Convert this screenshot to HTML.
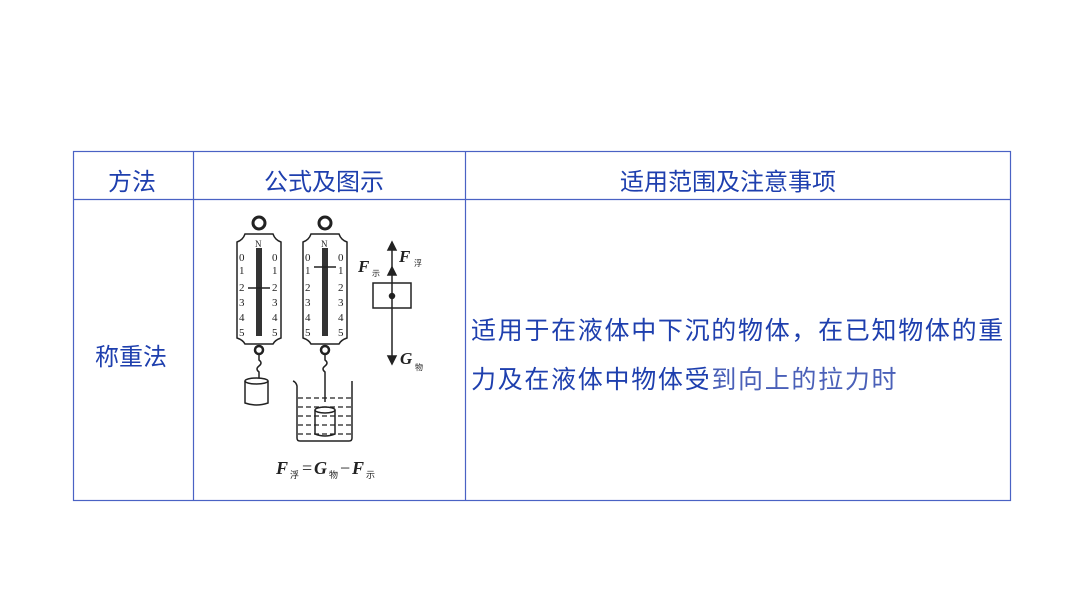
<!DOCTYPE html>
<html><head><meta charset="utf-8"><style>
body{margin:0;width:1066px;height:600px;background:#fff;position:relative;font-family:"Liberation Sans","Noto Sans CJK SC",sans-serif;overflow:hidden}
.t{position:absolute;color:#1e3fae;font-size:25px;line-height:30px;white-space:nowrap}
</style></head><body>
<svg width="1066" height="600" style="position:absolute;left:0;top:0">
<g stroke="#4a62c4" stroke-width="1.2" fill="none">
<rect x="73.5" y="151.5" width="937" height="349"/>
<line x1="73" y1="199.5" x2="1011" y2="199.5"/>
<line x1="193.5" y1="151" x2="193.5" y2="500"/>
<line x1="465.5" y1="151" x2="465.5" y2="500"/>
</g>
<g stroke="#222" fill="none" stroke-width="1.5" font-family="Liberation Serif,serif">
<circle cx="259" cy="223" r="6" stroke-width="3"/>
<path d="M237 242 q6-2 8-8 h28 q2 6 8 8 v96 q-6 2 -8 6 h-28 q-2-4 -8-6 z"/>
<rect x="256" y="248" width="6" height="88" fill="#333" stroke="none"/>
<line x1="248" y1="288" x2="270" y2="288"/>
<circle cx="259" cy="350" r="4" stroke-width="2.5"/>
<path d="M259 354 v6 q4 3 0 6 q-4 3 0 6 v6"/>
<path d="M245 381 v22 q11 4 23 0 v-22"/><ellipse cx="256.5" cy="381" rx="11.5" ry="3"/>
<circle cx="325" cy="223" r="6" stroke-width="3"/>
<path d="M303 242 q6-2 8-8 h28 q2 6 8 8 v96 q-6 2 -8 6 h-28 q-2-4 -8-6 z"/>
<rect x="322" y="248" width="6" height="88" fill="#333" stroke="none"/>
<line x1="314" y1="267" x2="336" y2="267"/>
<circle cx="325" cy="350" r="4" stroke-width="2.5"/>
<path d="M325 354 v6 q4 3 0 6 q-4 3 0 6 v30"/>
<path d="M293 381 q3 1 4 5 v52 q0 3 3 3 h49 q3 0 3-3 v-57"/>
<g stroke-dasharray="5 3" stroke-width="1.2"><line x1="298" y1="398" x2="351" y2="398"/><line x1="298" y1="407" x2="351" y2="407"/><line x1="298" y1="416" x2="351" y2="416"/><line x1="298" y1="425" x2="351" y2="425"/><line x1="298" y1="434" x2="351" y2="434"/></g>
<path d="M315 410 v24 q10 4 20 0 v-24"/><ellipse cx="325" cy="410" rx="10" ry="3"/>
<rect x="373" y="283" width="38" height="25"/>
<line x1="392" y1="248" x2="392" y2="358"/>
<path d="M388 250 l4-8 l4 8 z M388 275 l4-8 l4 8 z M388 356 l4 8 l4-8 z" fill="#222"/>
<circle cx="392" cy="296" r="2.5" fill="#222"/>
</g>
<g font-family="Liberation Serif,serif" font-size="11" fill="#222">
<text x="239" y="261">0</text><text x="239" y="274">1</text><text x="239" y="291">2</text><text x="239" y="306">3</text><text x="239" y="321">4</text><text x="239" y="336">5</text>
<text x="272" y="261">0</text><text x="272" y="274">1</text><text x="272" y="291">2</text><text x="272" y="306">3</text><text x="272" y="321">4</text><text x="272" y="336">5</text>
<text x="305" y="261">0</text><text x="305" y="274">1</text><text x="305" y="291">2</text><text x="305" y="306">3</text><text x="305" y="321">4</text><text x="305" y="336">5</text>
<text x="338" y="261">0</text><text x="338" y="274">1</text><text x="338" y="291">2</text><text x="338" y="306">3</text><text x="338" y="321">4</text><text x="338" y="336">5</text>
<text x="255" y="247" font-size="9">N</text><text x="321" y="247" font-size="9">N</text>
<text x="358" y="272" font-size="17" font-style="italic" font-weight="bold">F</text><text x="372" y="276" font-size="8">示</text>
<text x="399" y="262" font-size="17" font-style="italic" font-weight="bold">F</text><text x="414" y="266" font-size="8">浮</text>
<text x="400" y="364" font-size="17" font-style="italic" font-weight="bold">G</text><text x="415" y="370" font-size="8">物</text>
<text x="276" y="474" font-size="18" font-style="italic" font-weight="bold">F</text><text x="290" y="478" font-size="9">浮</text>
<text x="302" y="474" font-size="18">=</text>
<text x="314" y="474" font-size="18" font-style="italic" font-weight="bold">G</text><text x="329" y="478" font-size="9">物</text>
<text x="340" y="474" font-size="18">−</text>
<text x="352" y="474" font-size="18" font-style="italic" font-weight="bold">F</text><text x="366" y="478" font-size="9">示</text>
</g>
</svg>
<div class="t" style="left:108px;top:168px;font-size:24px">方法</div>
<div class="t" style="left:264px;top:168px;font-size:24px">公式及图示</div>
<div class="t" style="left:620px;top:168px;font-size:24px">适用范围及注意事项</div>
<div class="t" style="left:95px;top:343px;font-size:24px">称重法</div>
<div class="t" style="left:471px;top:316px;letter-spacing:1.7px">适用于在液体中下沉的物体，在已知物体的重</div>
<div class="t" style="left:471px;top:365px;letter-spacing:1.7px">力及在液体中物体受<span style="color:#4a60b8">到向上的拉力时</span></div>
</body></html>
